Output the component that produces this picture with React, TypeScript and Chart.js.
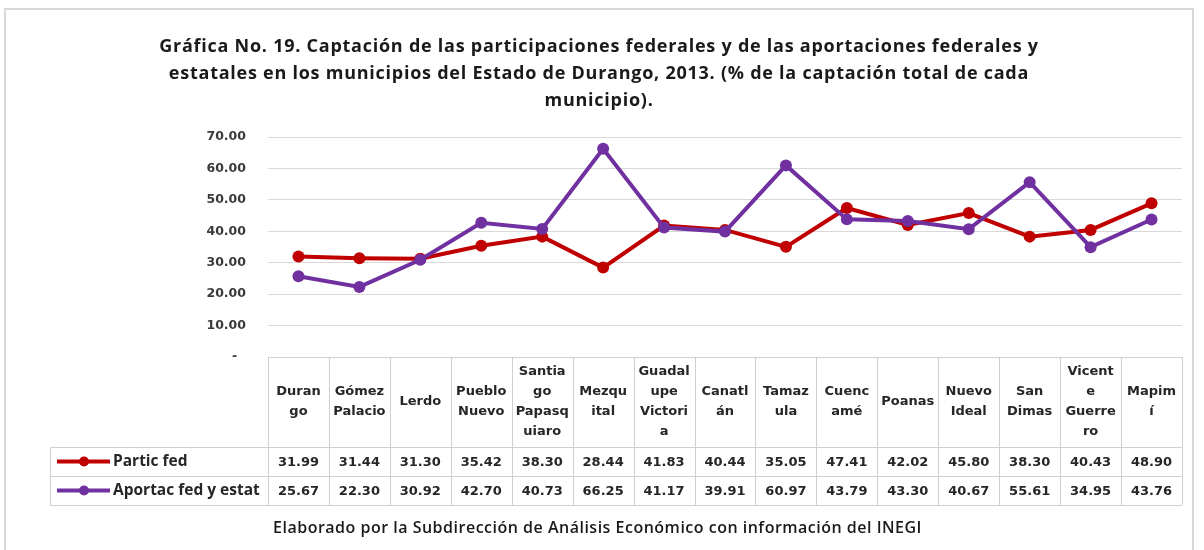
import React, { useEffect, useRef } from "react";
import { Chart, registerables } from "chart.js";

Chart.register(...registerables);

// ---------- data ----------
const categoryLines: string[][] = [
  ["Duran", "go"],
  ["Gómez", "Palacio"],
  ["Lerdo"],
  ["Pueblo", "Nuevo"],
  ["Santia", "go", "Papasq", "uiaro"],
  ["Mezqu", "ital"],
  ["Guadal", "upe", "Victori", "a"],
  ["Canatl", "án"],
  ["Tamaz", "ula"],
  ["Cuenc", "amé"],
  ["Poanas"],
  ["Nuevo", "Ideal"],
  ["San", "Dimas"],
  ["Vicent", "e", "Guerre", "ro"],
  ["Mapim", "í"],
];

const particFed: number[] = [
  31.99, 31.44, 31.3, 35.42, 38.3, 28.44, 41.83, 40.44, 35.05, 47.41, 42.02, 45.8, 38.3, 40.43, 48.9,
];

const aportacFedEstat: number[] = [
  25.67, 22.3, 30.92, 42.7, 40.73, 66.25, 41.17, 39.91, 60.97, 43.79, 43.3, 40.67, 55.61, 34.95, 43.76,
];

const seriesNames: string[] = ["Partic fed", "Aportac fed y estat"];
const seriesColors: string[] = ["#C00000", "#7030A0"];

const yMin = 0;
const yMax = 70;
const yStep = 10;

const titleLines: string[] = [
  "Gráfica No. 19. Captación de las participaciones federales y de las aportaciones federales y",
  "estatales en los municipios del Estado de Durango, 2013. (% de la captación total de cada",
  "municipio).",
];
const footerText = "Elaborado por la Subdirección de Análisis Económico con información del INEGI";

// ---------- table plugin ----------
const tablePlugin = {
  id: "dataTable",
  afterDraw(chart: any) {
    const { ctx, chartArea } = chart;
    const xs = chart.scales.x;
    const n = categoryLines.length;
    const left = chartArea.left;
    const right = chartArea.right;
    const colW = (right - left) / n;
    const top = chartArea.bottom;
    const headerBottom = top + 90;
    const rowH = 29;
    const row1Bottom = headerBottom + rowH;
    const row2Bottom = row1Bottom + rowH;
    const legendLeft = 50;

    ctx.save();
    ctx.strokeStyle = "#d0d0d0";
    ctx.lineWidth = 1;
    const h = (x1: number, x2: number, y: number) => {
      ctx.beginPath();
      ctx.moveTo(x1, Math.round(y) + 0.5);
      ctx.lineTo(x2, Math.round(y) + 0.5);
      ctx.stroke();
    };
    const v = (x: number, y1: number, y2: number) => {
      ctx.beginPath();
      ctx.moveTo(Math.round(x) + 0.5, y1);
      ctx.lineTo(Math.round(x) + 0.5, y2);
      ctx.stroke();
    };
    h(left, right, top);
    h(legendLeft, right, headerBottom);
    h(legendLeft, right, row1Bottom);
    h(legendLeft, right, row2Bottom);
    for (let i = 0; i <= n; i++) v(left + i * colW, top, row2Bottom);
    v(legendLeft, headerBottom, row2Bottom);

    // header labels
    ctx.fillStyle = "#262626";
    ctx.textAlign = "center";
    ctx.textBaseline = "middle";
    ctx.font = 'bold 13px "DejaVu Sans"';
    const lh = 20;
    const headerMid = (top + headerBottom) / 2;
    for (let i = 0; i < n; i++) {
      const cx = xs.getPixelForValue(i);
      const lines = categoryLines[i];
      const y0 = headerMid - ((lines.length - 1) * lh) / 2;
      lines.forEach((t, k) => ctx.fillText(t, cx, y0 + k * lh));
    }

    // values
    const rowMids = [(headerBottom + row1Bottom) / 2, (row1Bottom + row2Bottom) / 2];
    chart.data.datasets.forEach((ds: any, k: number) => {
      ds.data.forEach((val: number, i: number) => {
        ctx.fillText(val.toFixed(2), xs.getPixelForValue(i), rowMids[k] + 1);
      });
    });

    // legend keys
    chart.data.datasets.forEach((ds: any, k: number) => {
      const y = rowMids[k];
      ctx.strokeStyle = ds.borderColor;
      ctx.lineWidth = 4;
      ctx.beginPath();
      ctx.moveTo(57, y);
      ctx.lineTo(110, y);
      ctx.stroke();
      ctx.fillStyle = ds.borderColor;
      ctx.beginPath();
      ctx.arc(84, y, 5, 0, Math.PI * 2);
      ctx.fill();
      ctx.fillStyle = "#262626";
      ctx.textAlign = "left";
      ctx.font = 'bold 15.5px "Open Sans"';
      ctx.fillText(ds.label, 113, y);
    });
    ctx.restore();
  },
};

export default function App() {
  const canvasRef = useRef<HTMLCanvasElement | null>(null);

  useEffect(() => {
    if (!canvasRef.current) return;
    const chart = new Chart(canvasRef.current, {
      type: "line",
      data: {
        labels: categoryLines.map((l) => l.join("")),
        datasets: [
          {
            label: seriesNames[0],
            data: particFed,
            borderColor: seriesColors[0],
            backgroundColor: seriesColors[0],
            pointBackgroundColor: seriesColors[0],
            borderWidth: 4,
            pointRadius: 6,
            pointBorderWidth: 0,
            tension: 0,
            order: 1,
          },
          {
            label: seriesNames[1],
            data: aportacFedEstat,
            borderColor: seriesColors[1],
            backgroundColor: seriesColors[1],
            pointBackgroundColor: seriesColors[1],
            borderWidth: 4,
            pointRadius: 6,
            pointBorderWidth: 0,
            tension: 0,
            order: 0,
          },
        ],
      },
      options: {
        animation: false,
        responsive: false,
        maintainAspectRatio: false,
        layout: { padding: { top: 137, right: 22, bottom: 193, left: 0 } },
        plugins: {
          legend: { display: false },
          title: { display: false },
          tooltip: { enabled: false },
        },
        scales: {
          x: { type: "category", display: false, offset: true },
          y: {
            min: yMin,
            max: yMax,
            border: { display: false },
            grid: { color: "#d9d9d9", drawTicks: false, lineWidth: 1 },
            ticks: {
              stepSize: yStep,
              padding: 22,
              color: "#3a3a3a",
              font: { family: "DejaVu Sans", weight: "bold", size: 12.5 },
              callback: (val: any) => (Number(val) === 0 ? "-  " : Number(val).toFixed(2)),
            },
            afterFit: (s: any) => {
              s.width = 268;
            },
          },
        },
      },
      plugins: [tablePlugin],
    } as any);
    return () => chart.destroy();
  }, []);

  return (
    <div
      style={{
        position: "fixed",
        left: 0,
        top: 0,
        width: 1204,
        height: 550,
        overflow: "hidden",
        background: "#ffffff",
      }}
    >
      <div
        style={{
          position: "absolute",
          left: 4,
          top: 8,
          width: 1190,
          height: 600,
          border: "2px solid #d8d8d8",
          boxSizing: "border-box",
        }}
      />
      <canvas
        ref={canvasRef}
        width={1204}
        height={550}
        style={{ position: "absolute", left: 0, top: 0 }}
      />
      <div
        style={{
          position: "absolute",
          left: 0,
          top: 32,
          width: 1198,
          textAlign: "center",
          fontFamily: '"Open Sans", sans-serif',
          fontWeight: 700,
          fontSize: 18,
          letterSpacing: "0.75px",
          lineHeight: "27px",
          color: "#1a1a1a",
          whiteSpace: "nowrap",
        }}
      >
        {titleLines.map((t, i) => (
          <div key={i}>{t}</div>
        ))}
      </div>
      <div
        style={{
          position: "absolute",
          left: 0,
          top: 516,
          width: 1195,
          textAlign: "center",
          fontFamily: '"Open Sans", sans-serif',
          fontWeight: 600,
          fontSize: 16,
          letterSpacing: "0.5px",
          lineHeight: "22px",
          color: "#1a1a1a",
          whiteSpace: "nowrap",
        }}
      >
        {footerText}
      </div>
    </div>
  );
}
